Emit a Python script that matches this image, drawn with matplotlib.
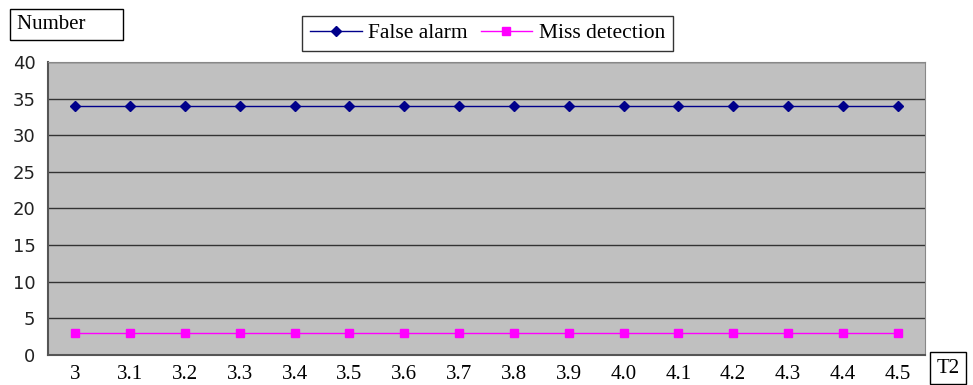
import numpy as np
import matplotlib
matplotlib.use('Agg')
import matplotlib.pyplot as plt

# data
t2_labels = ['3', '3.1', '3.2', '3.3', '3.4', '3.5', '3.6', '3.7', '3.8', '3.9',
             '4.0', '4.1', '4.2', '4.3', '4.4', '4.5']
false_alarm = [34, 34, 34, 34, 34, 34, 34, 34, 34, 34, 34, 34, 34, 34, 34, 34]
miss_detection = [3, 3, 3, 3, 3, 3, 3, 3, 3, 3, 3, 3, 3, 3, 3, 3]

fig = plt.figure(figsize=(9.73, 3.85), dpi=100)
ax = fig.add_axes([0.0493, 0.078, 0.9014, 0.761])
ax.set_facecolor('#c0c0c0')

x = np.arange(len(t2_labels))
ax.plot(x, false_alarm, color='#00008b', lw=1.0, marker='D', ms=5,
        label='False alarm')
ax.plot(x, miss_detection, color='#ff00ff', lw=1.0, marker='s', ms=5.5,
        label='Miss detection')

ax.set_xlim(-0.5, len(t2_labels) - 0.5)
ax.set_ylim(0, 40)
ax.set_yticks(range(0, 41, 5))
ax.set_xticks(x)
ax.set_xticklabels(t2_labels, family='Liberation Serif', fontsize=15)
for lab in ax.get_yticklabels():
    lab.set_family('DejaVu Sans')
    lab.set_fontsize(13)
    lab.set_color('#222222')
ax.tick_params(axis='x', length=0, pad=7)
ax.tick_params(axis='y', length=0, pad=9)
ax.grid(axis='y', color='#333333', lw=1.0)
ax.set_axisbelow(True)
for s in ['top', 'right']:
    ax.spines[s].set_color('#888888')
for s in ['left', 'bottom']:
    ax.spines[s].set_color('#555555')
    ax.spines[s].set_linewidth(1.5)

leg = fig.legend(loc='center', bbox_to_anchor=(0.501, 0.914), ncol=2,
                 prop={'family': 'Liberation Serif', 'size': 15.5},
                 frameon=True, fancybox=False, handlelength=2.4,
                 handletextpad=0.3, columnspacing=0.6, borderpad=0.35)
leg.get_frame().set_edgecolor('black')
leg.get_frame().set_linewidth(1.0)

box = dict(boxstyle='square,pad=0.3', fc='white', ec='black', lw=1.0)
fig.text(0.017, 0.936, 'Number      ', family='Liberation Serif', fontsize=15,
         va='center', ha='left', bbox=box)
fig.text(0.974, 0.044, 'T2', family='Liberation Serif', fontsize=15,
         va='center', ha='center', bbox=box)

fig.savefig('out.png', dpi=100)
